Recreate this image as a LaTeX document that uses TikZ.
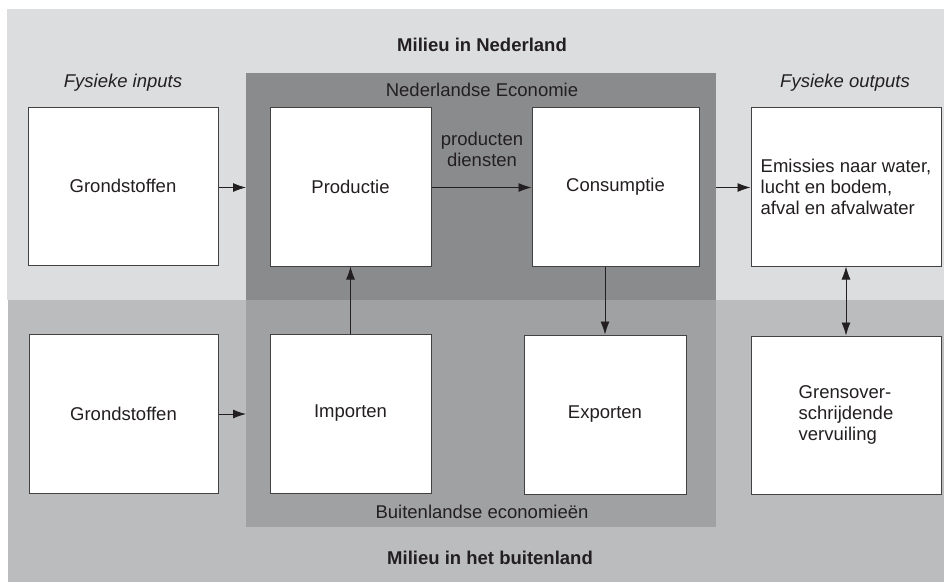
\documentclass[tikz,border=0pt]{standalone}
\usepackage{fontspec}
\setmainfont{Liberation Sans}
\usetikzlibrary{arrows.meta}
\definecolor{lightreg}{HTML}{DCDDDF}
\definecolor{lowreg}{HTML}{BBBCBE}
\definecolor{ecotop}{HTML}{8A8B8D}
\definecolor{ecobot}{HTML}{A0A1A3}
\definecolor{ink}{HTML}{231F20}
\tikzset{
  box/.style={draw=ink!85, line width=1pt, fill=white, inner sep=0pt, align=center,
    text=ink, font=\fontsize{18.5}{21}\selectfont},
  lbl/.style={text=ink, font=\fontsize{18.5}{21}\selectfont, inner sep=0pt, align=center},
  arr/.style={draw=ink, line width=0.9pt, -{Latex[length=13pt,width=9pt]}},
  darr/.style={draw=ink, line width=0.9pt, {Latex[length=13pt,width=9pt]}-{Latex[length=13pt,width=9pt]}}
}
\begin{document}
\begin{tikzpicture}[x=1pt,y=-1pt]
\useasboundingbox (0,0) rectangle (944,582);
\fill[white] (0,0) rectangle (944,582);
% regions
\fill[lightreg] (7,9) rectangle (944,300);
\fill[lowreg] (8,300) rectangle (944,582);
\fill[ecotop] (246,73) rectangle (716,300);
\fill[ecobot] (246,300) rectangle (716,527);
% titles
\node[lbl, font=\fontsize{18.5}{21}\selectfont\bfseries] (tnl) at (482,45) {Milieu in Nederland};
\node[lbl, font=\fontsize{18.5}{21}\selectfont\bfseries] (tbu) at (490,558) {Milieu in het buitenland};
\node[lbl] (tne) at (482,90) {Nederlandse Economie};
\node[lbl] (tbe) at (482,512) {Buitenlandse economieën};
\node[lbl, font=\fontsize{18.5}{21}\selectfont\itshape] (tin) at (123,83) {Fysieke inputs};
\node[lbl, font=\fontsize{18.5}{21}\selectfont\itshape] (tout) at (845,83) {Fysieke outputs};
% boxes
\node[box, minimum width=190pt, minimum height=158pt] (gin) at (123,186) {Grondstoffen};
\node[box, minimum width=161pt, minimum height=159pt] (prod) at (350.5,186.5) {Productie};
\node[box, minimum width=167pt, minimum height=159pt] (cons) at (615.5,186.5) {Consumptie};
\node[box, minimum width=190pt, minimum height=159pt, align=left] (emis) at (846,186.5) {Emissies naar water,\\lucht en bodem,\\afval en afvalwater};
\node[box, minimum width=189pt, minimum height=159pt] (gbu) at (123.5,413.5) {Grondstoffen};
\node[box, minimum width=161pt, minimum height=159pt] (imp) at (350.5,413.5) {Importen};
\node[box, minimum width=162pt, minimum height=159pt] (exp) at (605,414.5) {Exporten};
\node[box, minimum width=190pt, minimum height=158pt, align=left] (gren) at (846,415) {Grensover-\\schrijdende\\vervuiling};
% label between productie and consumptie
\node[lbl] (pd) at (482,149.5) {producten\\diensten};
% connectors
\coordinate (ecoL1) at (246,187.5);
\coordinate (ecoL2) at (246,414);
\coordinate (ecoR1) at (716,187.5);
\draw[arr] (gin.east |- ecoL1) -- (ecoL1);
\draw[arr] (gbu.east |- ecoL2) -- (ecoL2);
\draw[arr] (prod.east |- ecoL1) -- (cons.west |- ecoL1);
\draw[arr] (ecoR1) -- (emis.west |- ecoR1);
\draw[arr] (imp.north) -- (prod.south);
\draw[arr] (cons.south -| exp.north) -- (exp.north);
\draw[darr] (emis.south) -- (gren.north);
\end{tikzpicture}
\end{document}
